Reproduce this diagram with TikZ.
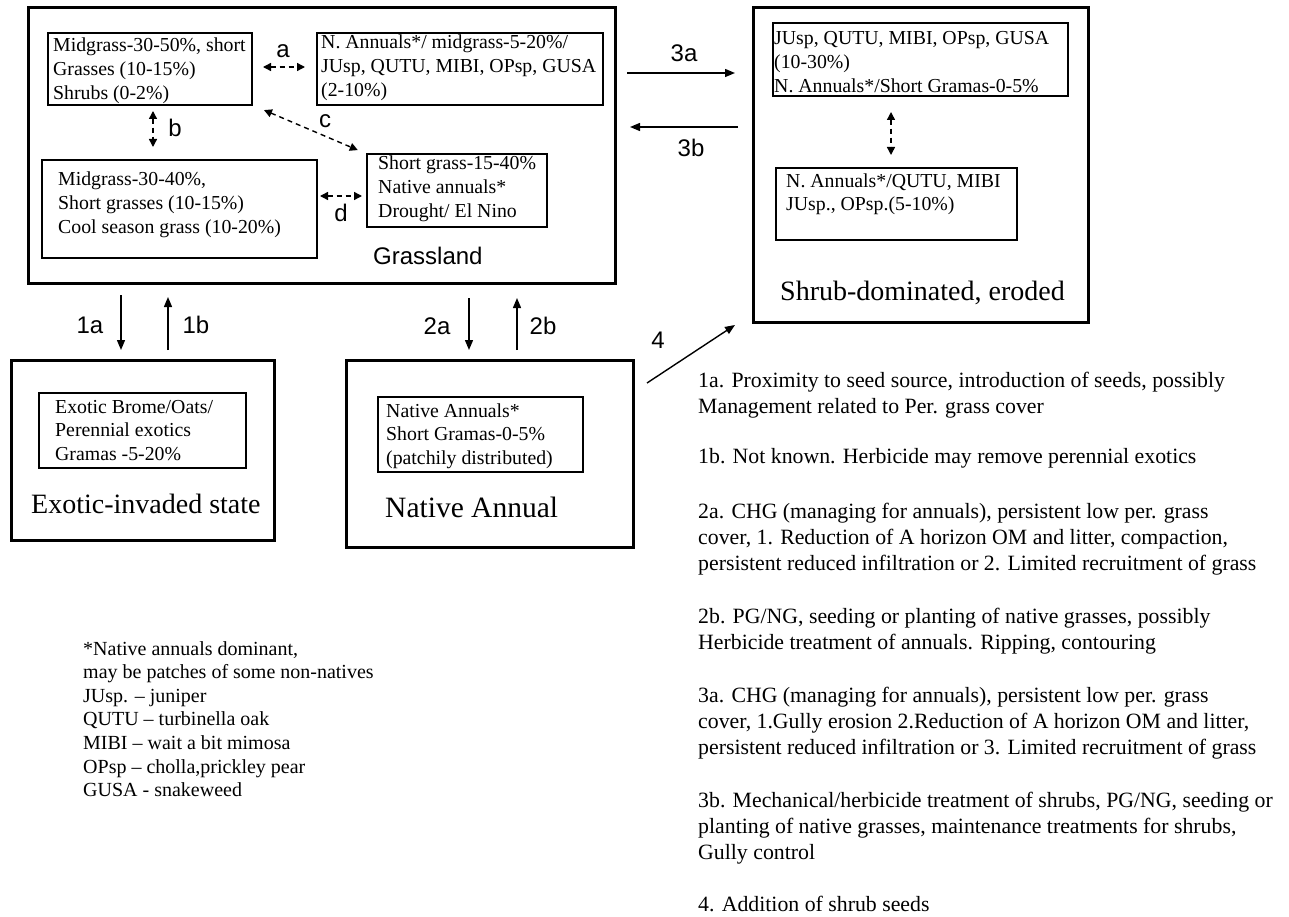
\documentclass[tikz,border=0pt]{standalone}
\usepackage{fontspec}
\setmainfont{Liberation Serif}
\newfontfamily\lblfont{Liberation Sans}
\usetikzlibrary{arrows.meta}
\begin{document}
\begin{tikzpicture}[x=1pt,y=-1pt,
  obox/.style={draw, line width=3pt, inner sep=0pt, outer sep=0pt, anchor=north west},
  ibox/.style={draw, line width=1.4pt, inner sep=0pt, outer sep=0pt, anchor=north west},
  btxt/.style={anchor=base west, inner sep=0pt, align=left, font=\fontsize{19.8}{23.7}\selectfont},
  ltxt/.style={anchor=base west, inner sep=0pt, align=left, font=\fontsize{21.8}{26.2}\selectfont},
  gtxt/.style={anchor=base west, inner sep=0pt, align=left, font=\fontsize{20}{23.6}\selectfont},
  stitle/.style={anchor=base west, inner sep=0pt, font=\fontsize{28}{32}\selectfont},
  slbl/.style={anchor=base, inner sep=0pt, font=\lblfont\fontsize{24}{28}\selectfont},
  arr/.style={-{Triangle[length=10pt,width=8pt]}, line width=1.4pt},
  darr/.style={{Triangle[length=8pt,width=8pt]}-{Triangle[length=8pt,width=8pt]}, line width=1.4pt, dash pattern=on 5pt off 4pt}
]
\useasboundingbox[fill=white] (0,0) rectangle (1289,917);

% outer state boxes
\node[obox, minimum width=587, minimum height=275] (G) at (28,8) {};
\node[obox, minimum width=335, minimum height=314] (S) at (753,8) {};
\node[obox, minimum width=263, minimum height=180] (Ex) at (11,360) {};
\node[obox, minimum width=287, minimum height=187] (Na) at (346,360) {};

% inner boxes
\node[ibox, minimum width=204, minimum height=72] (A) at (48,33) {};
\node[ibox, minimum width=286, minimum height=72] (B) at (317,33) {};
\node[ibox, minimum width=275, minimum height=98] (C) at (42,160) {};
\node[ibox, minimum width=180, minimum height=73] (D) at (367,154) {};
\node[ibox, minimum width=295, minimum height=73] (E) at (773,23) {};
\node[ibox, minimum width=241, minimum height=72] (F) at (776,168) {};
\node[ibox, minimum width=207, minimum height=75] (ExI) at (39,393) {};
\node[ibox, minimum width=205, minimum height=75] (NaI) at (378,397) {};

% inner box texts (positions give the baseline of the last line)
\node[btxt] (tA) at (53,99.4) {Midgrass-30-50\%, short\\Grasses (10-15\%)\\Shrubs (0-2\%)};
\node[btxt] (tB) at (321,96.4) {N. Annuals*/ midgrass-5-20\%/\\JUsp, QUTU, MIBI, OPsp, GUSA\\(2-10\%)};
\node[btxt] (tC) at (58,233.4) {Midgrass-30-40\%,\\Short grasses (10-15\%)\\Cool season grass (10-20\%)};
\node[btxt] (tD) at (378,217.4) {Short grass-15-40\%\\Native annuals*\\Drought/ El Nino};
\node[btxt] (tE) at (774,92.4) {JUsp, QUTU, MIBI, OPsp, GUSA\\(10-30\%)\\N. Annuals*/Short Gramas-0-5\%};
\node[btxt] (tF) at (786,210.7) {N. Annuals*/QUTU, MIBI\\JUsp., OPsp.(5-10\%)};
\node[btxt] (tExI) at (55,460.4) {Exotic Brome/Oats/\\Perennial exotics\\Gramas -5-20\%};
\node[btxt] (tNaI) at (386,464.4) {Native Annuals*\\Short Gramas-0-5\%\\(patchily distributed)};

% state titles
\node[anchor=base west, inner sep=0pt, font=\lblfont\fontsize{24}{28}\selectfont] (tG) at (373,265) {Grassland};
\node[stitle] (tS) at (780,300) {Shrub-dominated, eroded};
\node[stitle] (tEx) at (31,513) {Exotic-invaded state};
\node[stitle, font=\fontsize{29.5}{33}\selectfont] (tNa) at (385,517) {Native Annual};

% dashed transitions inside states
\draw[darr, shorten <=11pt, shorten >=12pt] (A.east |- 0,67) -- (B.west |- 0,67);
\draw[darr, shorten <=6pt, shorten >=13pt] (A.south -| 153,0) -- (C.north -| 153,0);
\draw[darr, shorten <=13pt, shorten >=10pt] (A.south east) -- (D.north west);
\draw[darr, shorten <=3pt, shorten >=5pt] (C.east |- 0,196) -- (D.west |- 0,196);
\draw[darr, shorten <=16pt, shorten >=13pt] (E.south -| 891,0) -- (F.north -| 891,0);

\node[slbl] (la) at (283,58) {a};
\node[slbl] (lb) at (175,137) {b};
\node[slbl] (lc) at (325,128) {c};
\node[slbl] (ld) at (341,222) {d};

% transitions between states
\draw[arr, shorten <=12pt, shorten >=18pt] (G.east |- 0,73) -- (S.west |- 0,73);
\draw[arr, shorten <=15pt, shorten >=15pt] (S.west |- 0,127) -- (G.east |- 0,127);
\draw[arr, shorten <=12pt, shorten >=10pt] (G.south -| 121,0) -- (Ex.north -| 121,0);
\draw[arr, shorten <=10pt, shorten >=14pt] (Ex.north -| 168,0) -- (G.south -| 168,0);
\draw[arr, shorten <=15pt, shorten >=10pt] (G.south -| 469,0) -- (Na.north -| 469,0);
\draw[arr, shorten <=10pt, shorten >=15pt] (Na.north -| 517,0) -- (G.south -| 517,0);
\draw[arr] ([xshift=14pt,yshift=-23pt]Na.north east) -- ([xshift=-18pt,yshift=-3pt]S.south west);

\node[slbl] (l3a) at (684,62) {3a};
\node[slbl] (l3b) at (691,157) {3b};
\node[slbl] (l1a) at (90,333) {1a};
\node[slbl] (l1b) at (196,333) {1b};
\node[slbl] (l2a) at (437,334) {2a};
\node[slbl] (l2b) at (543,334) {2b};
\node[slbl] (l4) at (658,348) {4};

% legend
\node[gtxt] (leg) at (83,796.6) {*Native annuals dominant,\\may be patches of some non-natives\\JUsp. -- juniper\\QUTU -- turbinella oak\\MIBI -- wait a bit mimosa\\OPsp -- cholla,prickley pear\\GUSA - snakeweed};

% transition descriptions
\node[ltxt] (p1a) at (698,413.2) {1a. Proximity to seed source, introduction of seeds, possibly\\Management related to Per. grass cover};
\node[ltxt] (p1b) at (698,463) {1b. Not known. Herbicide may remove perennial exotics};
\node[ltxt] (p2a) at (698,570.4) {2a. CHG (managing for annuals), persistent low per. grass\\cover, 1. Reduction of A horizon OM and litter, compaction,\\persistent reduced infiltration or 2. Limited recruitment of grass};
\node[ltxt] (p2b) at (698,649.2) {2b. PG/NG, seeding or planting of native grasses, possibly\\Herbicide treatment of annuals. Ripping, contouring};
\node[ltxt] (p3a) at (698,754.4) {3a. CHG (managing for annuals), persistent low per. grass\\cover, 1.Gully erosion 2.Reduction of A horizon OM and litter,\\persistent reduced infiltration or 3. Limited recruitment of grass};
\node[ltxt] (p3b) at (698,859.4) {3b. Mechanical/herbicide treatment of shrubs, PG/NG, seeding or\\planting of native grasses, maintenance treatments for shrubs,\\Gully control};
\node[ltxt] (p4) at (698,911) {4. Addition of shrub seeds};
\end{tikzpicture}
\end{document}
